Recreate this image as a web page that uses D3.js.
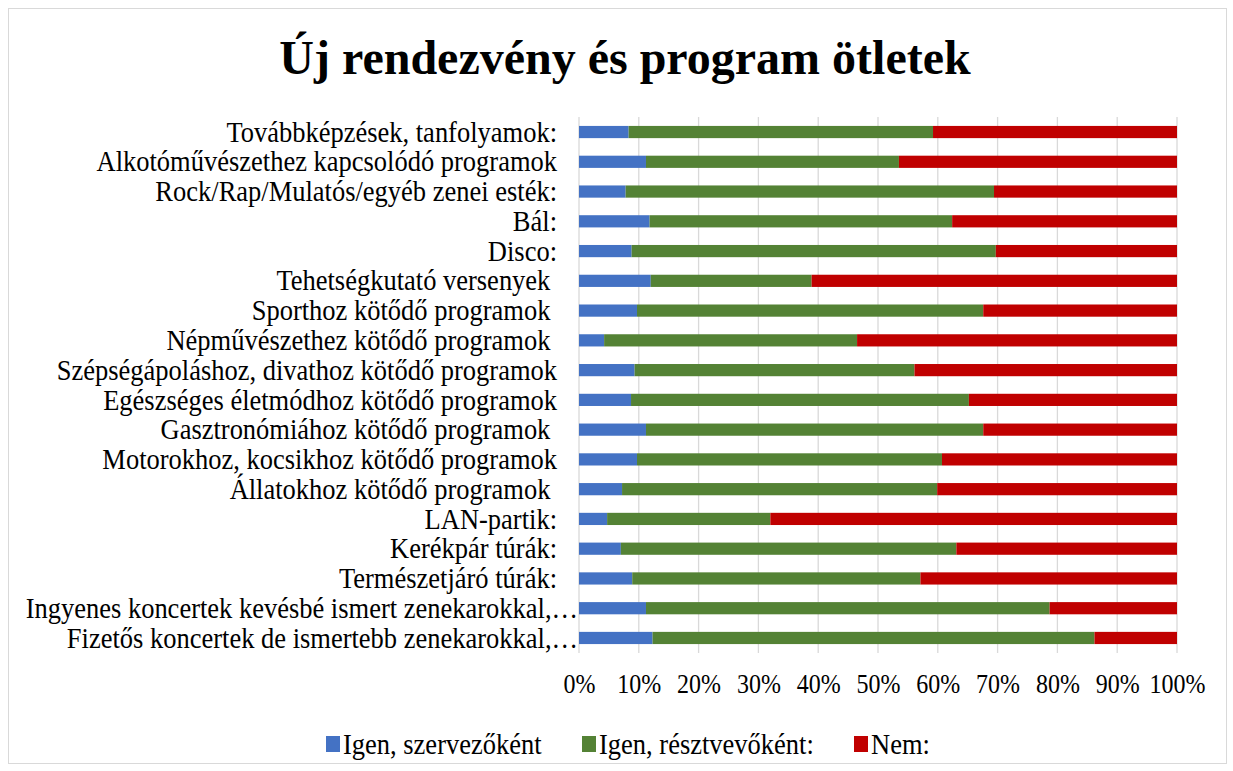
<!DOCTYPE html>
<html>

<head>
    <meta charset="UTF-8">
    <script src="https://d3js.org/d3.v7.min.js"></script>
    <style>
        body {
            margin: 0;
            background-color: #fff;
        }

        text {
            font-family: 'Liberation Serif', 'Times New Roman', serif;
            fill: #000;
        }
    </style>
</head>

<body>
    <svg id="chart" width="1233" height="771"></svg>
    <script>
        // categories, top to bottom
        var categories = [
            "Továbbképzések, tanfolyamok:",
            "Alkotóművészethez kapcsolódó programok",
            "Rock/Rap/Mulatós/egyéb zenei esték:",
            "Bál:",
            "Disco:",
            "Tehetségkutató versenyek ",
            "Sporthoz kötődő programok ",
            "Népművészethez kötődő programok ",
            "Szépségápoláshoz, divathoz kötődő programok",
            "Egészséges életmódhoz kötődő programok",
            "Gasztronómiához kötődő programok ",
            "Motorokhoz, kocsikhoz kötődő programok",
            "Állatokhoz kötődő programok ",
            "LAN-partik:",
            "Kerékpár túrák:",
            "Természetjáró túrák:",
            "Ingyenes koncertek kevésbé ismert zenekarokkal,…",
            "Fizetős koncertek de ismertebb zenekarokkal,…"
        ];

        // percentages
        var szervezo = [8.3, 11.2, 7.8, 11.8, 8.8, 12.0, 9.7, 4.2, 9.3, 8.7, 11.2, 9.7, 7.2, 4.7, 7.0, 8.9, 11.2, 12.3];
        var resztvevo = [50.9, 42.3, 61.6, 50.6, 60.9, 26.9, 57.9, 42.3, 46.8, 56.5, 56.4, 51.0, 52.7, 27.3, 56.1, 48.2, 67.5, 73.9];
        var nem = [40.8, 46.5, 30.6, 37.6, 30.3, 61.1, 32.4, 53.5, 43.9, 34.8, 32.4, 39.3, 40.1, 68.0, 36.9, 42.9, 21.3, 13.8];

        var seriesNames = ["Igen, szervezőként", "Igen, résztvevőként:", "Nem:"];
        var colors = ["#4472C4", "#548235", "#C00000"];
        var tickValues = [0, 0.1, 0.2, 0.3, 0.4, 0.5, 0.6, 0.7, 0.8, 0.9, 1];

        var rows = categories.map(function (c, i) {
            return { cat: c, s0: szervezo[i], s1: resztvevo[i], s2: nem[i] };
        });

        // the small texts in the picture look a bit taller than wide
        var stretch = "scale(1,1.1)";

        var svg = d3.select("#chart");

        // outer border
        svg.append("rect")
            .attr("x", 8.5).attr("y", 8.5)
            .attr("width", 1218).attr("height", 755)
            .attr("fill", "none")
            .attr("stroke", "#d9d9d9");

        svg.append("text")
            .attr("x", 625)
            .attr("y", 74)
            .attr("text-anchor", "middle")
            .style("font-size", "48px")
            .style("font-weight", "bold")
            .text("Új rendezvény és program ötletek");

        var x = d3.scaleLinear().domain([0, 1]).range([579, 1177]);
        var y = d3.scaleBand().domain(categories).range([117, 653]).paddingInner(0.59).paddingOuter(0.3);

        var stack = d3.stack()
            .keys(["s0", "s1", "s2"])
            .offset(d3.stackOffsetExpand);
        var series = stack(rows);

        // gridlines
        svg.append("g")
            .selectAll("line")
            .data(tickValues)
            .enter()
            .append("line")
            .attr("x1", function (d) { return x(d); })
            .attr("x2", function (d) { return x(d); })
            .attr("y1", 117)
            .attr("y2", 653)
            .attr("stroke", "#d9d9d9")
            .attr("stroke-width", 1.3);

        svg.append("g")
            .selectAll("g")
            .data(series)
            .enter()
            .append("g")
            .attr("fill", function (d, i) { return colors[i]; })
            .selectAll("rect")
            .data(function (d) { return d; })
            .enter()
            .append("rect")
            .attr("x", function (d) { return x(d[0]); })
            .attr("width", function (d) { return x(d[1]) - x(d[0]); })
            .attr("y", function (d) { return y(d.data.cat); })
            .attr("height", y.bandwidth());

        // category labels (cut labels with an ellipsis run up to the bars)
        svg.append("g")
            .selectAll("text")
            .data(categories)
            .enter()
            .append("text")
            .attr("transform", function (d) {
                var lx = d.slice(-1) === "…" ? 578 : 557;
                return "translate(" + lx + "," + (y(d) + y.bandwidth() / 2) + ") " + stretch;
            })
            .attr("dy", "0.33em")
            .attr("text-anchor", "end")
            .attr("xml:space", "preserve")
            .style("white-space", "pre")
            .style("font-size", "26.5px")
            .text(function (d) { return d; });

        // x axis tick labels
        var xAxis = d3.axisBottom(x)
            .tickValues(tickValues)
            .tickFormat(d3.format(".0%"))
            .tickSize(0)
            .tickPadding(0);

        var ax = svg.append("g")
            .attr("transform", "translate(0,693)")
            .call(xAxis);
        ax.select(".domain").remove();
        ax.selectAll("text")
            .attr("y", 0)
            .attr("dy", 0)
            .attr("transform", stretch)
            .style("font-size", "24px")
            .style("font-family", "'Liberation Serif', 'Times New Roman', serif")
            .attr("fill", "#000");

        // legend
        var legendX = [326, 582, 854];
        var legend = svg.append("g")
            .selectAll("g")
            .data(seriesNames)
            .enter()
            .append("g")
            .attr("transform", function (d, i) { return "translate(" + legendX[i] + ",744)"; });

        legend.append("rect")
            .attr("x", 0).attr("y", -8)
            .attr("width", 14).attr("height", 16)
            .attr("fill", function (d, i) { return colors[i]; });

        legend.append("text")
            .attr("transform", "translate(17,0) " + stretch)
            .attr("dy", "0.35em")
            .style("font-size", "26.5px")
            .text(function (d) { return d; });
    </script>
</body>

</html>
